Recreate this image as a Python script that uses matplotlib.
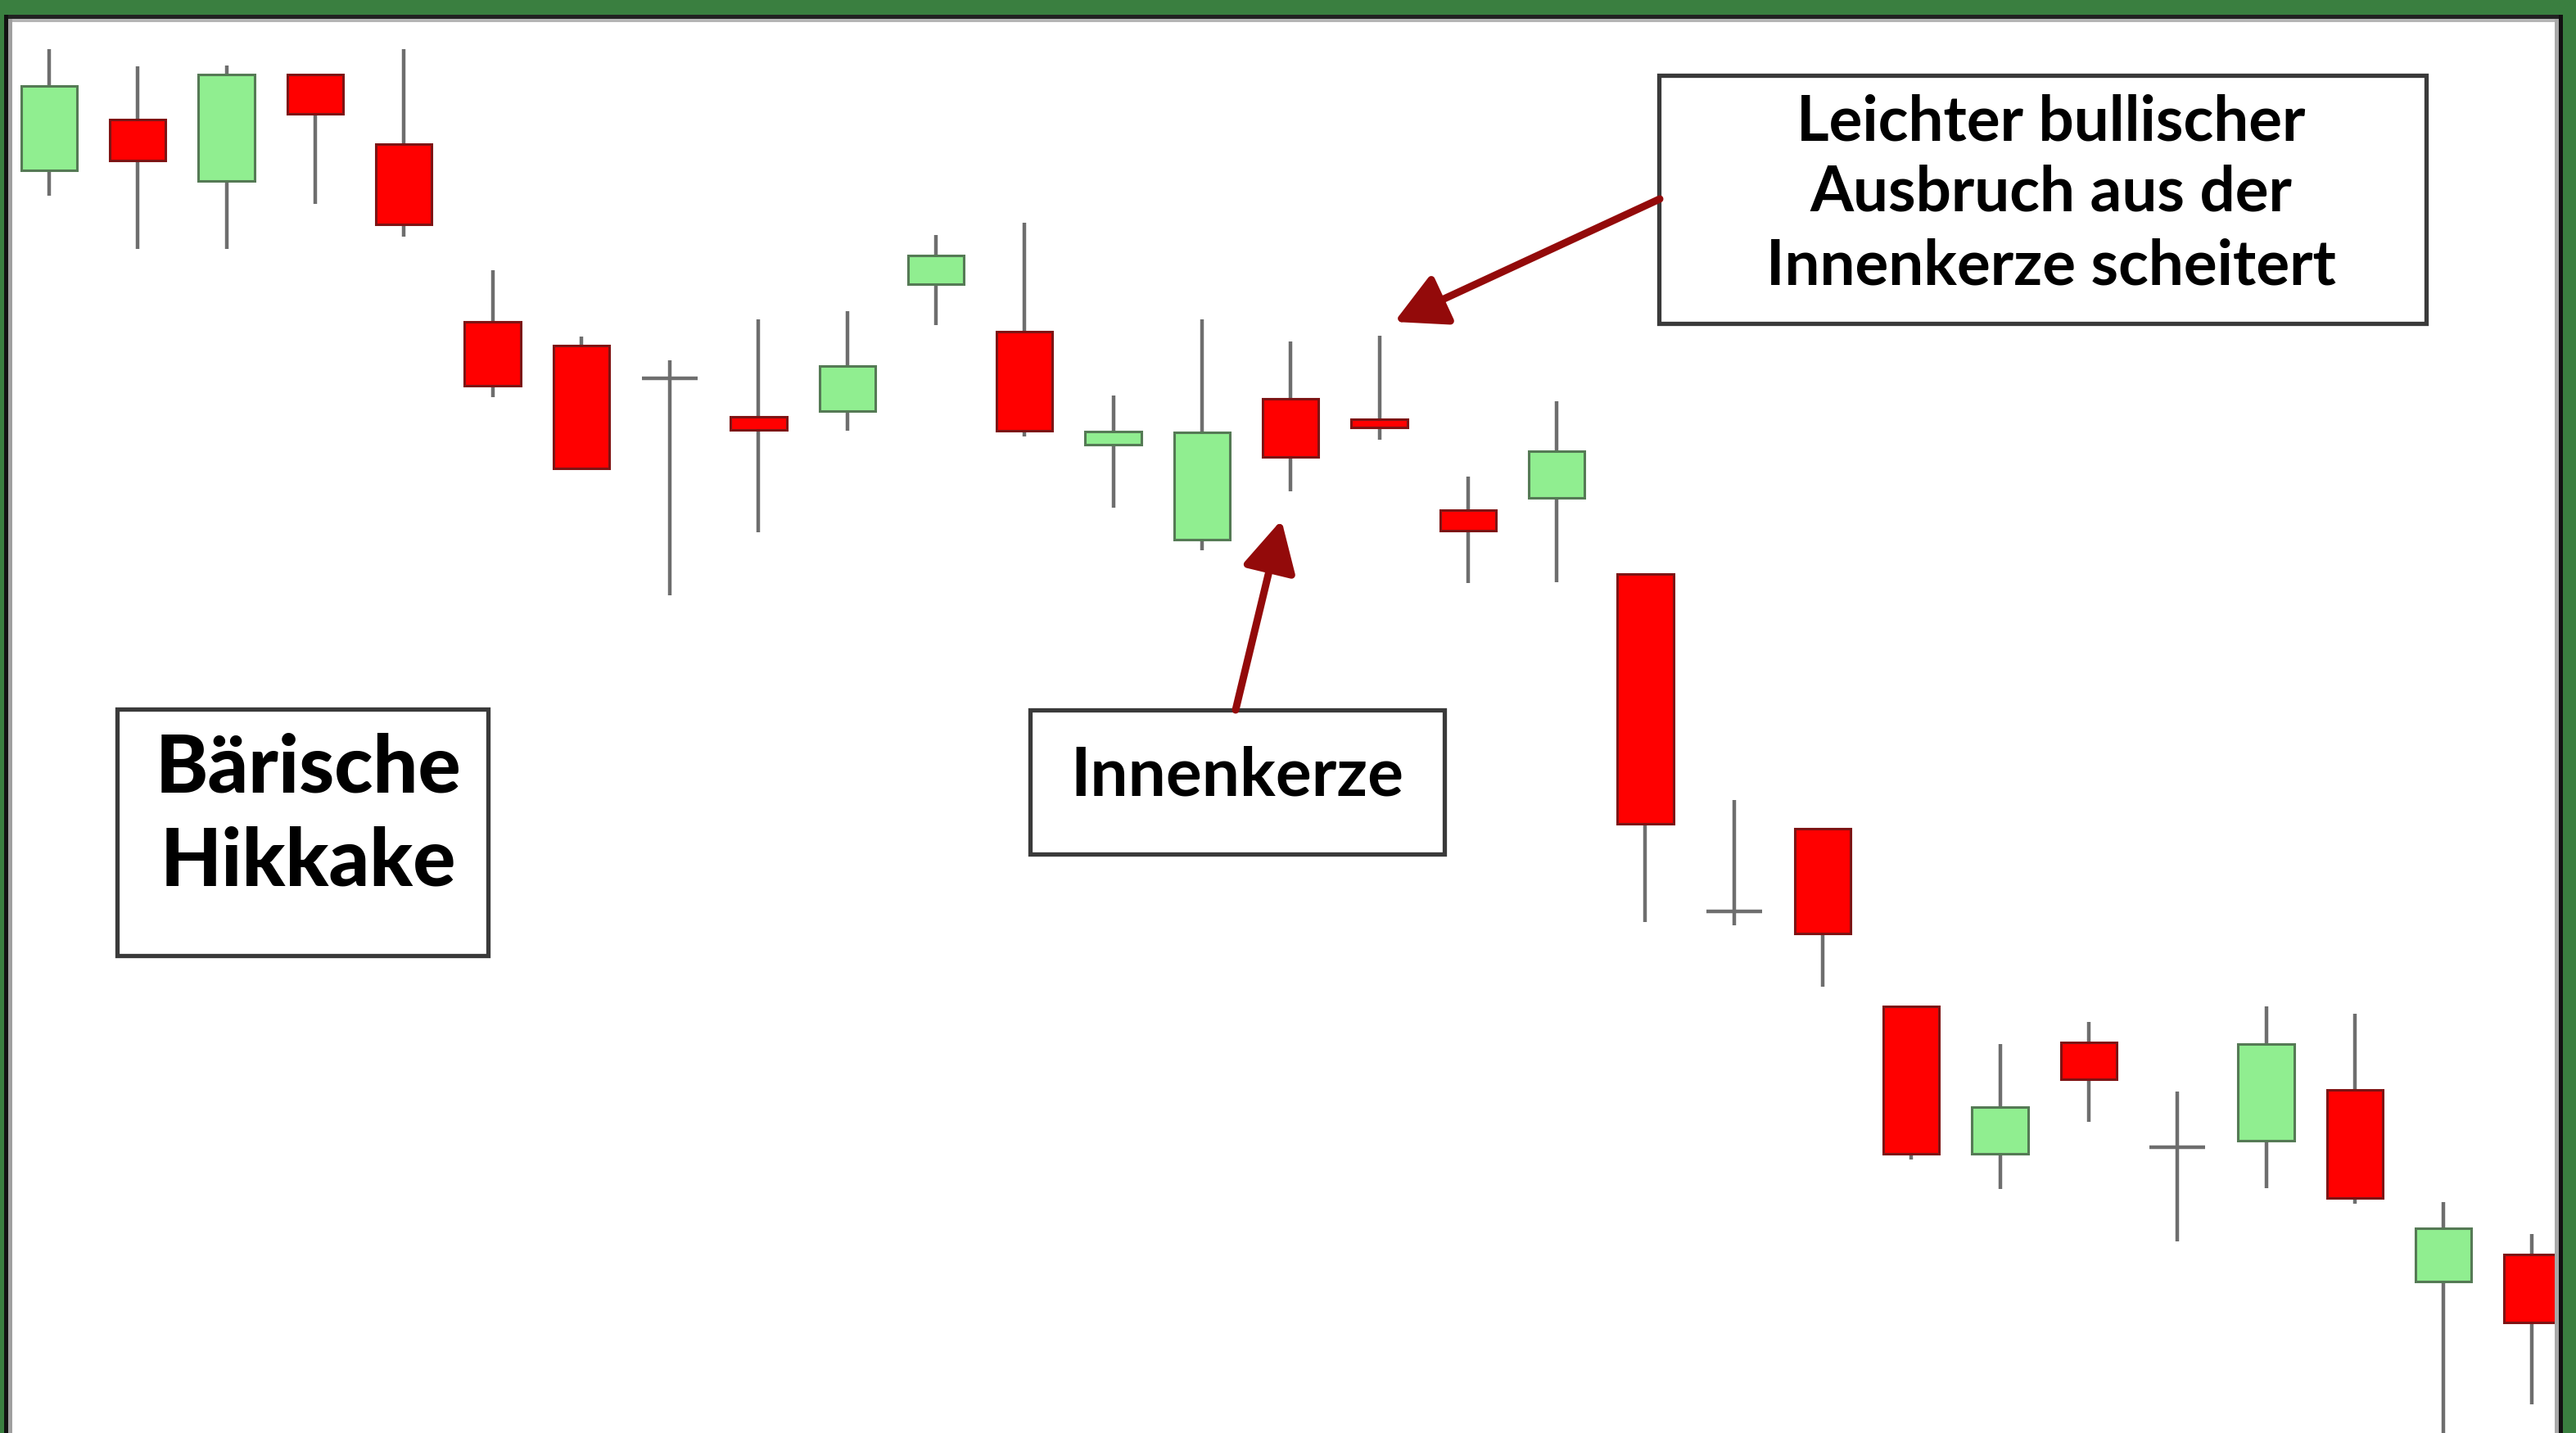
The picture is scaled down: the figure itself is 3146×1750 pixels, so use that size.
import numpy as np
import matplotlib.pyplot as plt
from matplotlib.patches import Rectangle, FancyArrowPatch

W, H, DPI = 3146, 1750, 100

# Kerzen (OHLC)
opens = [154.2, 160.4, 152.9, 165.9, 157.4, 135.7, 132.8, 128.8, 124.1, 124.8,
         140.3, 134.5, 120.7, 109.1, 126.3, 123.8, 112.7, 114.2, 104.9, 63.7,
         73.8, 52.1, 34.1, 47.7, 34.9, 35.7, 41.9, 18.5, 21.8]
highs = [169.0, 166.9, 167.0, 165.9, 169.0, 142.0, 133.9, 131.0, 136.0, 137.0,
         146.3, 147.8, 126.7, 136.0, 133.3, 134.0, 116.8, 126.0, 104.9, 77.3,
         73.8, 52.1, 47.5, 50.2, 41.7, 52.1, 51.2, 28.2, 24.3]
lows = [151.1, 144.6, 144.6, 150.1, 146.1, 126.5, 117.6, 102.3, 110.0, 122.4,
        135.3, 121.7, 113.0, 107.8, 115.0, 121.3, 103.8, 103.9, 62.4, 62.0,
        54.5, 33.4, 29.8, 38.0, 23.4, 29.9, 28.0, -2.0, 3.5]
closes = [164.5, 155.4, 165.9, 161.1, 147.6, 127.9, 117.8, 128.8, 122.5, 130.3,
          143.8, 122.4, 122.3, 122.2, 119.2, 122.8, 110.2, 119.9, 74.4, 63.7,
          61.0, 34.1, 39.8, 43.2, 34.9, 47.5, 28.7, 25.0, 13.5]

box_breakout = ["Leichter bullischer", "Ausbruch aus der", "Innenkerze scheitert"]
box_title = ["Bärische", "Hikkake"]
box_inside = "Innenkerze"

up_fill, up_edge = "#90EE90", "#557a55"
down_fill, down_edge = "#FF0000", "#7d1414"
wick_col = "#6e6e6e"
arrow_col = "#930a0a"
frame_green = "#3a7f40"


def fx(px):
    return px / W


def fy(py):
    return 1 - py / H


fig = plt.figure(figsize=(W / DPI, H / DPI), dpi=DPI, facecolor="white")
ax = fig.add_axes([0, 0, 1, 1])
ax.set_xlim(-60 / 108.3, (W - 60) / 108.3)
ax.set_ylim(0, 175)
ax.axis("off")

x = np.arange(len(opens))
o = np.array(opens)
c = np.array(closes)
bw = 0.63

ax.vlines(x, lows, highs, color=wick_col, lw=3.2, zorder=1)
for i in x:
    if o[i] == c[i]:
        ax.hlines(o[i], i - bw / 2, i + bw / 2, color=wick_col, lw=3.2, zorder=2)
        continue
    up = c[i] > o[i]
    ax.bar(i, abs(c[i] - o[i]), bottom=min(o[i], c[i]), width=bw,
           color=up_fill if up else down_fill,
           edgecolor=up_edge if up else down_edge, lw=2.2, zorder=2)


def box(x0, y0, x1, y1):
    fig.add_artist(Rectangle((fx(x0), fy(y1)), fx(x1) - fx(x0), fy(y0) - fy(y1),
                             transform=fig.transFigure, facecolor="white",
                             edgecolor="#3a3a3a", lw=3.8, zorder=3))


box(2026, 92, 2963, 395)
for line, base in zip(box_breakout, [172, 258, 347]):
    fig.text(fx(2505), fy(base), line, ha="center", va="baseline",
             fontsize=55, family="Lato", weight="bold", zorder=4)

box(143, 866, 596, 1167)
for line, base in zip(box_title, [968, 1082]):
    fig.text(fx(376), fy(base), line, ha="center", va="baseline",
             fontsize=70, family="Lato", weight="black", zorder=4)

box(1258, 867, 1764, 1043)
fig.text(fx(1511), fy(971), box_inside, ha="center", va="baseline",
         fontsize=59, family="Lato", weight="bold", zorder=4)

for tail, tip in [((2027, 243), (1703, 393)), ((1509, 867), (1565, 635))]:
    fig.add_artist(FancyArrowPatch((fx(tail[0]), fy(tail[1])), (fx(tip[0]), fy(tip[1])),
                                   transform=fig.transFigure,
                                   arrowstyle="-|>,head_length=3.8,head_width=2.0",
                                   mutation_scale=10, color=arrow_col, lw=6.5,
                                   shrinkA=0, shrinkB=0, zorder=5))

# Rahmen
frame = [
    (0, 0, W, 18, frame_green), (0, 0, 5, H, frame_green), (3130, 0, W, H, frame_green),
    (5, 18, 3130, 23, "#222222"), (5, 18, 10, H, "#111111"), (3125, 18, 3130, H, "#111111"),
    (10, 23, 3125, 27, "#b5b5b5"), (10, 23, 15, H, "#a0a0a0"), (3120, 23, 3125, H, "#a8a8a8"),
]
for x0, y0, x1, y1, col in frame:
    fig.add_artist(Rectangle((fx(x0), fy(y1)), fx(x1) - fx(x0), fy(y0) - fy(y1),
                             transform=fig.transFigure, facecolor=col,
                             edgecolor="none", zorder=6))

fig.savefig("out.png", dpi=DPI, facecolor="white")
